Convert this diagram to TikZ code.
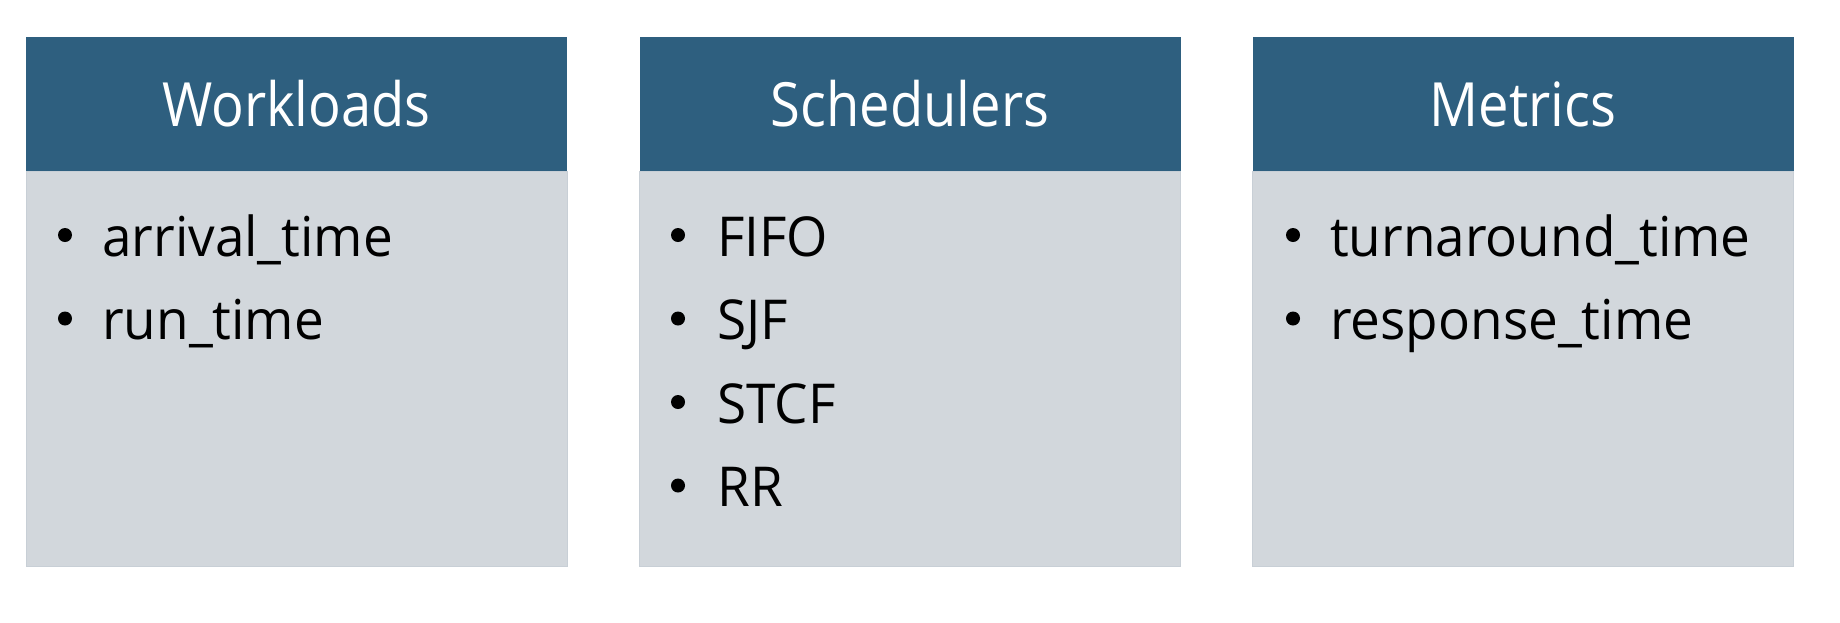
\documentclass[tikz,border=0pt]{standalone}
\usepackage{fontspec}
\setmainfont{Open Sans}
\newfontfamily\hdrfont[FakeStretch=0.89]{Open Sans}
\newfontfamily\itemfont[FakeStretch=0.965]{Open Sans}
\definecolor{hdrblue}{RGB}{46,95,127}
\definecolor{bodygray}{RGB}{210,215,220}
\definecolor{edgegray}{RGB}{200,207,214}
\begin{document}
\begin{tikzpicture}[x=1pt,y=-1pt,
  hdr/.style={rectangle, fill=hdrblue, inner sep=0pt, minimum width=541pt, minimum height=134pt,
    text=white, font=\hdrfont\fontsize{61}{70}\selectfont},
  bodybox/.style={rectangle, fill=bodygray, draw=edgegray, line width=0.8pt, inner sep=0pt,
    minimum width=541pt, minimum height=395pt},
  item/.style={anchor=base west, inner sep=0pt, text=black, font=\itemfont\fontsize{55}{66}\selectfont},
  dot/.style={circle, fill=black, inner sep=0pt, minimum size=14pt}
]
\useasboundingbox (0,0) rectangle (1840,622);
% box 1
\node[bodybox] (b1) at (296.5,368.5) {};
\node[hdr] (h1) at (296.5,104) {Workloads};
\node[dot] (d11) at (65,235) {};
\node[item] (t11) at (102,256) {arrival\_time};
\node[dot] (d12) at (65,318.5) {};
\node[item] (t12) at (102,339.5) {run\_time};
% box 2
\node[bodybox] (b2) at (910,368.5) {};
\node[hdr] (h2) at (910,104) {Schedulers};
\node[dot] (d21) at (678,235) {};
\node[item] (t21) at (717,256) {FIFO};
\node[dot] (d22) at (678,318.5) {};
\node[item] (t22) at (717,339.5) {SJF};
\node[dot] (d23) at (678,402) {};
\node[item] (t23) at (717,423) {STCF};
\node[dot] (d24) at (678,485.5) {};
\node[item] (t24) at (717,506.5) {RR};
% box 3
\node[bodybox] (b3) at (1523,368.5) {};
\node[hdr] (h3) at (1523,104) {Metrics};
\node[dot] (d31) at (1293,235) {};
\node[item] (t31) at (1330,256) {turnaround\_time};
\node[dot] (d32) at (1293,318.5) {};
\node[item] (t32) at (1330,339.5) {response\_time};
\end{tikzpicture}
\end{document}
